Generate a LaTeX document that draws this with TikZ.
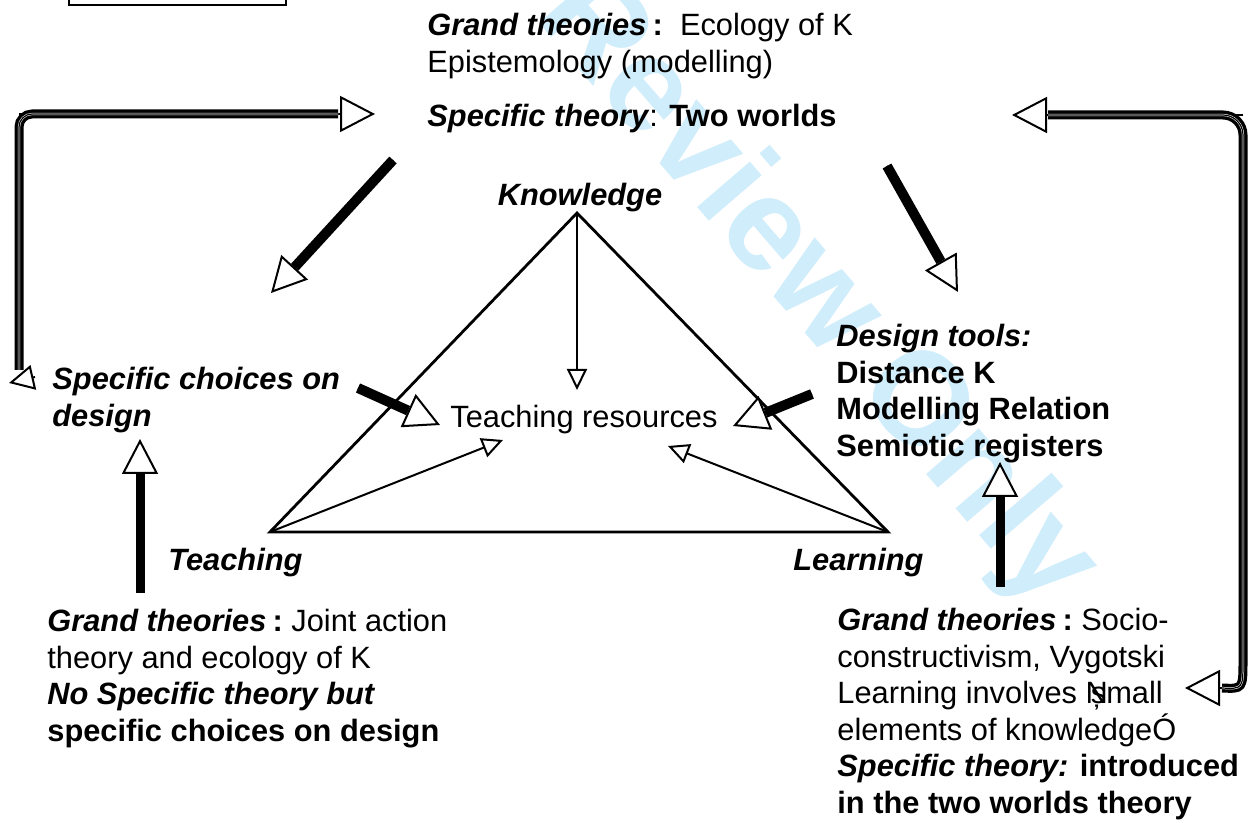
\documentclass[tikz,border=0pt]{standalone}
\usepackage{fontspec}
\setmainfont{Liberation Sans}
\usepackage{tikz}
\usetikzlibrary{arrows.meta, calc, positioning}
\definecolor{wmblue}{RGB}{208,237,251}
\newcommand{\grandth}{\textbf{\textit{Grand theories}\kern0.2em:}}

\begin{document}
\begin{tikzpicture}[x=0.5pt, y=-0.5pt]
	\tikzstyle{txt}=[inner sep=0pt, align=left, anchor=north west, font=\fontsize{15.4}{18.25}\selectfont]
	\tikzstyle{bftxt}=[txt, font=\fontsize{15.4}{18.25}\selectfont\bfseries]
	\tikzstyle{vertex}=[inner sep=0pt, font=\fontsize{15.4}{18.25}\selectfont\bfseries\itshape]
	\tikzstyle{side}=[line width=1.4pt]
	\tikzstyle{connect}=[line width=1pt, -{Triangle[length=10.5pt, width=10pt, fill=white]}]
	\tikzstyle{bigtip}=[line width=1pt, -{Triangle[length=17.5pt, width=18pt, fill=white]}]
	\tikzstyle{smalltip}=[line width=1pt, -{Triangle[length=12.5pt, width=12.5pt, fill=white]}]
	\tikzstyle{bar}=[line width=5pt]
	\tikzstyle{tripleline}=[line width=4.5pt, postaction={draw=white, line width=1.1pt}, postaction={draw=black, line width=0.6pt}]
	\tikzstyle{wm}=[inner sep=0pt, text=wmblue, rotate=-49.3, font=\fontsize{66}{66}\selectfont\bfseries]

	\useasboundingbox (0,0) rectangle (1248,823);
	\node[wm] (mark) at (815,292) {Review Only};
	\draw[line width=1pt] (69,-20) rectangle (286,5);

	% texts
	\node[txt] (grand-top) at (427,13) {\grandth\ \ Ecology of K\\Epistemology (modelling)};
	\node[txt, anchor=base west] (spec-top) at (427,127) {\textbf{\textit{Specific theory}}: \textbf{Two worlds}};
	\node[bftxt, font=\fontsize{15.4}{18.25}\selectfont\bfseries\itshape] (choices) at (52,367) {Specific choices on\\design};
	\node[bftxt] (tools) at (836,324) {\textit{Design tools:}\\Distance K\\Modelling Relation\\Semiotic registers};
	\node[txt] (grand-left) at (47,609) {\grandth\ Joint action\\theory and ecology of K\\\textbf{\textit{No Specific theory but}}\\\textbf{specific choices on design}};
	\node[txt] (grand-right) at (837,608) {\grandth\ Socio-\\constructivism, Vygotski\\Learning involves Ņ\kern-0.55em small\\elements of knowledgeÓ\\\textbf{\textit{Specific theory:}} \textbf{introduced}\\\textbf{in the two worlds theory}};
	\node[vertex, anchor=base] (knowledge) at (580,206) {Knowledge};
	\node[vertex, anchor=base west] (teaching) at (168,570) {Teaching};
	\node[vertex, anchor=base west] (learning) at (793,570) {Learning};
	\node[txt, anchor=base west] (resources) at (450,428) {Teaching resources};

	% didactic triangle
	\coordinate (K) at (577,213);
	\coordinate (T) at (270,532);
	\coordinate (L) at (888,532);
	\coordinate (kres) at (577,390);
	\coordinate (tres) at (503,440);
	\coordinate (lres) at (668,446);
	\draw[side] (K) -- (T) -- (L) -- cycle;
	\path (K) edge [connect] (kres)
	(T) edge [connect] (tres)
	(L) edge [connect] (lres);

	% thick arrows
	\coordinate (a1) at (393,160); \coordinate (a1t) at (271,293);
	\coordinate (a2) at (887,166); \coordinate (a2t) at (958,292);
	\coordinate (a3) at (358,388); \coordinate (a3t) at (440,425);
	\coordinate (a4) at (812,394); \coordinate (a4t) at (733,426);
	\path (a1) edge [bigtip] (a1t)
	(a2) edge [bigtip] (a2t)
	(a3) edge [bigtip] (a3t)
	(a4) edge [bigtip] (a4t);
	\draw[bar] (a1) -- ($(a1t)!17.5pt!(a1)$);
	\draw[bar] (a2) -- ($(a2t)!17.5pt!(a2)$);
	\draw[bar] (a3) -- ($(a3t)!17.5pt!(a3)$);
	\draw[bar] (a4) -- ($(a4t)!17.5pt!(a4)$);

	% upward arrows
	\coordinate (u1) at (140,593); \coordinate (u1t) at (140,439);
	\coordinate (u2) at (1000,587); \coordinate (u2t) at (1000,462);
	\path (u1) edge [bigtip] (u1t)
	(u2) edge [bigtip] (u2t);
	\draw[tripleline] (u1) -- ($(u1t)!17.5pt!(u1)$);
	\draw[tripleline] (u2) -- ($(u2t)!17.5pt!(u2)$);

	% loops
	\coordinate (lp-a) at (375,114); \coordinate (lp-b) at (9,383);
	\coordinate (rp-a) at (1012,115); \coordinate (rp-b) at (1185,688);
	\draw[bigtip] (19,114) -- (lp-a);
	\draw[smalltip] (35,377) -- (lp-b);
	\draw[tripleline, rounded corners=6.5pt] ($(lp-a)+(-37,0)$) -- (19,114) -- (19,370);
	\draw[bigtip] (1243,115) -- (rp-a);
	\draw[bigtip] ($(rp-b)+(37,0)$) -- (rp-b);
	\draw[tripleline, rounded corners=10pt] ($(rp-a)+(36,0)$) -- (1243,115) -- (1243,640) .. controls (1243,689) .. ($(rp-b)+(37,0)$);
\end{tikzpicture}
\end{document}
